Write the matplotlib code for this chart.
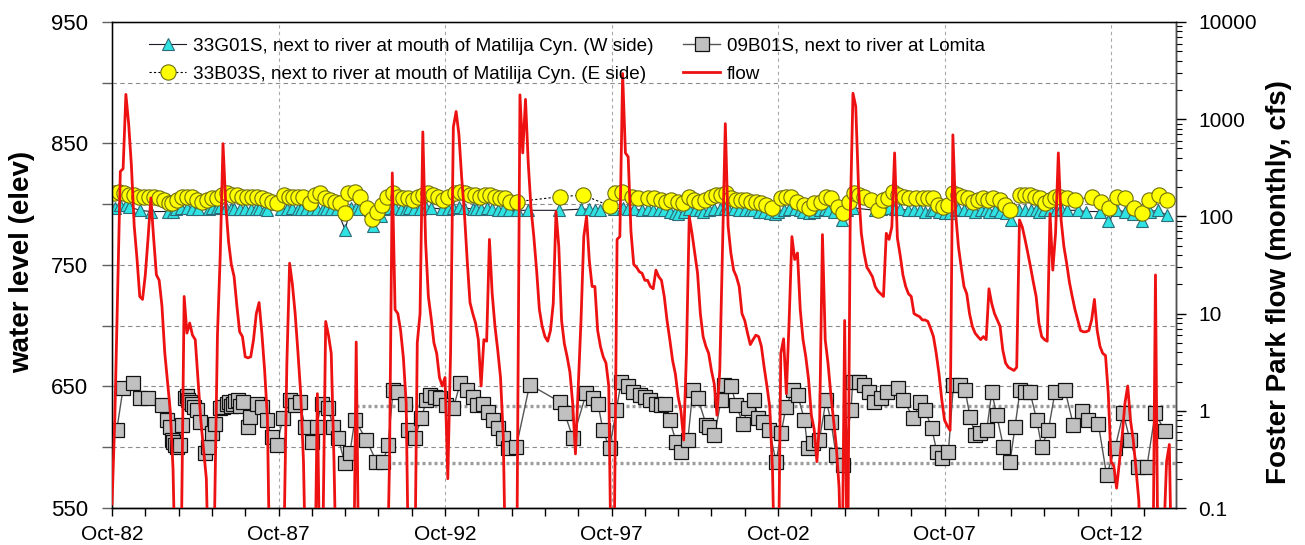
import numpy as np
import matplotlib
matplotlib.use("Agg")
import matplotlib.pyplot as plt
from matplotlib.ticker import FixedLocator, FuncFormatter, LogLocator, NullFormatter

plt.rcParams['font.family'] = ['Liberation Sans', 'DejaVu Sans']

# ---------------- data ----------------
# x positions are months counted from Oct-1982
START_YEAR = 1982.75

# Foster Park monthly flow (cfs), one value per month starting Oct-1982
flow_cfs = [
    0.11, 0.8, 15, 290, 310, 1800, 900, 330, 80, 37, 15, 14,          # WY1983
    25, 60, 155, 60, 25, 22, 12, 4, 2.0, 1.0, 0.25, 0.01,             # WY1984
    0.01, 0.05, 15, 6.3, 8, 6, 5.4, 2.1, 0.8, 0.4, 0.2, 0.01,         # WY1985
    0.01, 0.1, 6, 40, 560, 130, 55, 32, 24, 12, 6.5, 5.8,             # WY1986
    3.6, 3.5, 3.6, 5.4, 10, 13, 6.3, 2.6, 0.85, 0.01, 0.01, 0.01,     # WY1987
    0.01, 0.01, 0.05, 3, 33, 20, 10, 4, 1.5, 0.3, 0.01, 0.01,         # WY1988
    0.01, 0.01, 1.5, 0.01, 0.05, 8.3, 6, 3.9, 0.3, 0.01, 0.01, 0.01,  # WY1989
    0.01, 0.01, 0.01, 0.01, 5.1, 0.01, 0.01, 0.01, 0.01, 0.01, 0.01, 0.01,  # WY1990
    0.01, 0.01, 0.01, 0.01, 0.3, 280, 11, 10, 6.7, 3.5, 1.2, 0.01,    # WY1991
    0.01, 0.01, 5, 10, 740, 55, 15, 9, 5, 3.9, 2.2, 1.8,              # WY1992
    2.2, 0.2, 3.9, 830, 1200, 700, 250, 107, 35, 13, 10, 8,           # WY1993
    5.4, 1.8, 5.4, 5.2, 58, 16, 7.4, 4.2, 2.2, 0.54, 0.01, 0.01,      # WY1994
    0.01, 0.01, 0.1, 1780, 450, 1600, 350, 120, 62, 28, 11, 7.4,      # WY1995
    5.8, 5.2, 6.7, 12.7, 112, 49, 8.5, 4.9, 3.6, 2.5, 1.2, 0.36,      # WY1996
    1.8, 8.5, 62, 100, 35, 19, 19, 6.7, 4.6, 3.6, 3.1, 1.8,           # WY1997
    0.01, 0.05, 58, 62, 2950, 450, 410, 70, 32, 30, 27, 26,           # WY1998
    22, 22, 19, 18, 28, 24, 22, 15, 8.5, 5.4, 3.3, 2.4,               # WY1999
    1.4, 1.0, 0.5, 3.9, 100, 67, 42, 26, 10, 5.8, 4.6, 3.9,           # WY2000
    2.6, 1.9, 0.9, 2.6, 50, 900, 80, 42, 28, 24, 19, 10,              # WY2001
    8.5, 6.3, 4.8, 5.4, 6.0, 5.8, 4.6, 2.8, 1.8, 1.1, 0.25, 0.01,     # WY2002
    0.01, 3.9, 5.5, 1.5, 8.5, 62, 36, 42, 11, 5.4, 3.6, 2.1,          # WY2003
    0.9, 0.65, 0.3, 0.8, 65, 5.4, 3.1, 1.5, 0.8, 0.43, 0.16, 0.01,    # WY2004
    8.5, 0.01, 90, 1850, 1350, 200, 67, 42, 30, 27, 24, 19,           # WY2005
    17, 16, 15, 67, 58, 78, 450, 60, 40, 25, 19, 16,                  # WY2006
    15, 10, 9.6, 9.3, 8.6, 8.6, 8.3, 7.0, 5.8, 3.9, 2.4, 1.3,         # WY2007
    0.8, 0.7, 0.63, 690, 107, 49, 30, 19, 16, 10, 7.4, 6.3,           # WY2008
    5.8, 5.4, 5.8, 5.4, 18, 12.7, 10, 8.6, 7.4, 4.2, 3.1, 2.8,        # WY2009
    2.7, 2.6, 2.8, 92, 78, 58, 42, 30, 21, 15, 8, 5.8,                # WY2010
    5.4, 5.2, 107, 28, 67, 450, 92, 49, 33, 21, 15, 11,               # WY2011
    8.6, 6.7, 6.5, 6.5, 6.7, 8.6, 14, 6.7, 4.6, 3.9, 3.7, 1.5,        # WY2012
    0.3, 0.27, 0.16, 0.3, 0.55, 1.2, 1.8, 0.8, 0.5, 0.25, 0.12, 0.01, # WY2013
    0.01, 0.01, 0.01, 0.01, 25, 0.01, 0.01, 0.05, 0.3, 0.45, 0.01,    # WY2014
]

# 33G01S (W side) water level
g01_month = [1, 3, 5, 6, 10, 14, 20, 22, 23, 25, 27, 29, 31, 35, 36, 38, 39, 41, 43, 44,
             46, 48, 50, 52, 53, 55, 56,
             61, 63, 65, 67, 68, 70, 72, 74, 76, 77, 79, 81, 84, 86, 88, 89, 94,
             97, 98, 100, 102, 104, 106, 107, 109, 111, 113, 115, 119, 121, 123, 125, 127,
             130, 131, 133, 135, 137, 139, 141, 143, 146, 150, 161, 169, 172, 174, 176, 181,
             184, 186, 188, 191,
             193, 195, 197, 199, 201, 203, 204, 206, 208, 210, 212, 213, 215, 217, 219, 221,
             222, 224, 226, 228, 230, 231, 233, 235, 237, 239, 240, 242, 244, 246, 248, 249,
             251, 253, 255, 257, 258, 260, 263, 265, 267, 275, 277, 280, 282, 284, 287,
             289, 291, 293, 295, 296, 298, 300, 302, 304, 305, 307, 309, 311, 313, 315, 316,
             318, 320, 322, 324, 327, 329, 331, 333, 334, 336, 338, 340, 342, 344, 348, 351,
             356, 359, 362, 365, 368, 371, 374, 377, 380]
g01_elev = [797, 799, 799, 798, 795, 794, 794, 794, 796, 797, 797, 796, 796, 796, 797, 797, 798, 797, 796, 796,
            796, 796, 796, 796, 796, 796, 795,
            796, 796, 797, 796, 796, 796, 796, 796, 796, 796, 796, 796, 779, 797, 797, 796, 782,
            790, 796, 797, 797, 796, 796, 797, 796, 796, 797, 797, 796, 796, 797, 798, 797,
            796, 796, 796, 797, 796, 795, 795, 795, 795, 795, 795, 796, 796, 795, 795, 796,
            797, 796, 796, 795,
            796, 795, 795, 795, 794, 793, 792, 794, 796, 795, 795, 794, 795, 796, 796, 797,
            796, 796, 795, 795, 795, 795, 794, 794, 793, 792, 794, 795, 796, 796, 795, 794,
            793, 794, 795, 796, 795, 794, 787, 795, 797, 795, 796, 797, 796, 796, 795,
            795, 795, 794, 795, 795, 794, 793, 793, 795, 796, 795, 795, 794, 795, 795, 794,
            795, 794, 793, 787, 795, 795, 795, 795, 794, 795, 795, 795, 796, 795, 795, 794,
            794, 786, 795, 794, 792, 786, 794, 795, 791]

# 33B03S (E side) water level
b03_month = [0.6, 2.4, 4.2, 6.0, 7.8, 9.6, 11.4, 13.2, 15.0, 16.8,
             18.6, 20.4, 21.6, 23.4, 25.2, 27.0, 28.8, 30.6, 32.4, 34.2,
             36.0, 37.8, 39.6, 41.4, 43.2, 45.0, 46.8, 48.6, 50.4, 52.2,
             54.0, 55.8, 57.6, 59.4, 61.8, 63.6, 65.4, 67.2, 69.0, 71.4,
             73.2, 75.0, 76.8, 78.6, 80.4, 82.2, 84.0, 85.2, 87.6, 89.4,
             91.8, 93.6, 95.4, 97.2, 99.0, 101.4, 103.2, 105.0, 106.8, 108.6,
             110.4, 112.2, 114.0, 115.8, 117.6, 119.4, 121.2, 123.6, 125.4, 127.2,
             129.0, 130.8, 132.6, 134.4, 136.2, 138.0, 139.8, 141.6, 143.4, 145.8,
             161.4, 169.8, 179.4, 181.2, 183.6, 187.2, 189.6, 193.0, 195.4, 197.8,
             199.6, 201.4, 203.8, 205.6, 208.0, 209.8, 211.6, 213.8, 215.8, 217.6,
             219.4, 221.2, 223.0, 224.8, 226.6, 228.4, 230.2, 232.0, 233.8, 235.6,
             238.0, 241.0, 242.8, 244.6, 247.0, 249.4, 251.3, 253.0, 255.5, 257.3,
             259.0, 261.5, 263.3, 265.7, 267.5, 269.3, 271.1, 273.5, 275.9, 277.7,
             279.5, 281.3, 283.1, 285.5, 287.3, 289.7, 292.2, 294.0, 295.8, 297.6,
             299.4, 301.2, 303.0, 304.8, 306.6, 308.5, 310.3, 312.1, 313.9, 315.7,
             317.5, 319.9, 321.7, 323.5, 327.2, 329.0, 330.8, 332.6, 334.4, 336.3,
             338.1, 339.9, 341.7, 344.1, 347.1, 353.2, 356.2, 359.2, 362.2, 365.2,
             368.2, 371.2, 373.6, 377.3, 380.3]
b03_elev = [809, 810.4, 809, 807.6, 807.6, 806.2, 806.2, 806.2, 806.2, 804.9,
            803.5, 800.8, 800.8, 803.5, 806.2, 806.2, 806.2, 803.5, 802.1, 803.5,
            804.9, 804.9, 807.6, 809, 807.6, 807.6, 806.2, 806.2, 806.2, 806.2,
            804.9, 803.5, 802.1, 800.8, 807.6, 806.2, 806.2, 806.2, 806.2, 800.8,
            807.6, 809, 804.9, 803.5, 802.1, 800.8, 792.5, 809, 810.4, 806.2,
            796.6, 788, 794, 799.4, 806.2, 809, 806.2, 804.9, 804.9, 803.5,
            806.2, 807.6, 809, 807.6, 806.2, 803.5, 806.2, 809, 810.4, 809,
            807.6, 807.6, 806.2, 807.6, 807.6, 806.2, 804.9, 804.9, 802.1, 802.1,
            806.2, 807.6, 798.6, 809, 810.4, 806.2, 804.9, 804.9, 804.9, 803.5,
            802.1, 803.5, 802.1, 800.8, 806.2, 803.5, 802.1, 803.5, 806.2, 807.6,
            807.6, 809, 804.9, 803.5, 803.5, 803.5, 802.1, 802.1, 800.8, 799.4,
            796.6, 804.9, 806.2, 806.2, 802.1, 799.4, 796.6, 800.8, 802.1, 806.2,
            804.9, 798, 792.5, 802.1, 809, 807.6, 806.2, 803.5, 795.3, 803.5,
            804.9, 810.4, 807.6, 806.2, 804.9, 804.9, 804.9, 804.9, 804.9, 799.4,
            798, 799.4, 809, 807.6, 806.2, 804.9, 802.1, 803.5, 804.9, 803.5,
            804.9, 803.5, 799.4, 795.3, 807.6, 807.6, 807.6, 806.2, 804.9, 800.8,
            803.5, 806.2, 806.2, 804.9, 803.5, 806.2, 802.1, 796.6, 806.2, 804.9,
            796.6, 792.5, 803.5, 807.6, 803.5]

# 09B01S (Lomita) water level
b01_month = [1.7, 4.0, 7.7, 10.1, 13.1, 17.9, 19.7, 20.9, 21.5, 21.9,
             22.7, 23.5, 24.5, 25.1, 26.3, 26.9, 27.5, 28.1, 28.7, 29.5,
             30.5, 31.7, 33.5, 34.7, 35.9, 37.1, 38.9, 40.1, 41.3, 42.1,
             42.9, 43.7, 44.5, 45.5, 46.3, 47.3, 49.1, 49.7, 52.1, 53.9,
             55.7, 57.5, 59.3, 61.7, 64.1, 65.9, 67.7, 69.5, 71.9, 73.7,
             75.5, 77.9, 79.7, 81.5, 83.9, 85.7, 87.5, 91.7, 95.3, 97.7,
             99.5, 101.3, 103.1, 105.5, 106.7, 109.1, 111.5, 113.3, 114.5, 116.3,
             118.1, 120.5, 123, 125.4, 127.8, 130.2, 131.4, 133.8, 135.6, 137.3,
             139.1, 140.9, 142.7, 145.7, 150.5, 161.3, 163.1, 166.1, 170.9, 173.3,
             175.1, 176.9, 179.3, 181.7, 183.5, 185.9, 187.7, 190.1, 191.9, 193.7,
             196.1, 197.9, 199.1, 200.9, 203.3, 205.1, 207.5, 209.3, 211.1, 214.1,
             215.3, 217.1, 219.5, 220.7, 223.1, 224.9, 227.3, 229.1, 231.5, 232.7,
             234.5, 236.9, 239.3, 241.1, 242.9, 245.3, 247.1, 249.5, 250.7, 252.5,
             254.9, 257.3, 259.1, 260.9, 263.3, 266.3, 266.9, 269.3, 271.1, 272.9,
             274.7, 277.1, 279.2, 283.4, 285.2, 288.8, 291.2, 293, 295.4, 297.2,
             299, 301.4, 303.2, 305.6, 307.4, 309.2, 311, 312.8, 315.2, 317,
             318.8, 321.2, 323.6, 325.4, 327.2, 329, 330.8, 333.2, 335, 337.4,
             339.8, 343.4, 346.4, 349.4, 351.8, 355.4, 358.4, 361.4, 364.4, 366.8,
             369.8, 372.9, 375.9, 379.5]
b01_elev = [614, 648.5, 652.5, 640.5, 640.5, 635, 622.5, 617, 606, 604,
            602, 600, 602, 618, 640.5, 642, 639, 637, 636, 633,
            630.5, 621, 595, 600.5, 611.5, 619.5, 632, 633, 636, 637,
            634, 636, 638, 639, 634, 637.5, 617, 625, 636, 633.5,
            622.5, 608.5, 602, 624, 639, 635, 637.5, 617, 604.5, 617,
            636, 632, 617, 607.5, 587, 595, 622.5, 606, 588, 588,
            602, 647, 645.5, 636, 614, 607.5, 624, 639, 643, 641.5,
            640.5, 635, 632, 652.5, 647, 641.5, 635, 636, 629, 622.5,
            615.5, 607.5, 599, 600.5, 651.5, 637.5, 628, 607.5, 644.5, 640.5,
            636, 614, 599, 630.5, 654, 650, 645.5, 643, 641.5, 639,
            636, 635, 636, 622.5, 604.5, 596.5, 606, 647, 640.5, 618.5,
            617, 610, 639, 651.5, 650, 635, 619.5, 632, 639, 624,
            621, 614, 588, 611.5, 633.5, 647, 643, 622.5, 599, 603.5,
            606, 639, 621, 593.5, 585.5, 630.5, 654, 654, 651.5, 645.5,
            637.5, 640.5, 645.5, 648.5, 639, 624, 637.5, 630.5, 615.5, 596.5,
            591, 596.5, 651.5, 651.5, 647, 625, 610, 611.5, 614, 645.5,
            626.5, 600.5, 588, 617, 647, 645.5, 645.5, 622.5, 600.5, 614,
            645.5, 647, 618.5, 629.5, 622.5, 619.5, 577, 599, 628, 606,
            584, 584, 628, 613]

# dotted reference levels (elev) and the month they start
ref_levels = [634, 587]
ref_start_month = [88, 96.5]

labels_series = ["33G01S, next to river at mouth of Matilija Cyn. (W side)",
                 "33B03S, next to river at mouth of Matilija Cyn. (E side)",
                 "09B01S, next to river at Lomita",
                 "flow"]


def to_year(m):
    return START_YEAR + np.asarray(m, dtype=float) / 12.0


# ---------------- figure ----------------
W, H = 1305, 545
fig = plt.figure(figsize=(W / 100, H / 100), dpi=100)
ax = fig.add_axes([112 / W, 37 / H, 1064 / W, 486 / H])
ax2 = ax.twinx()

x_end = to_year(383.4)
ax.set_xlim(START_YEAR, x_end)
ax.set_ylim(550, 950)
ax2.set_yscale('log')
ax2.set_ylim(0.1, 10000)

# grid / ticks on left axis
ax.yaxis.set_major_locator(FixedLocator([550, 650, 750, 850, 950]))
ax.yaxis.set_minor_locator(FixedLocator([600, 700, 800, 900]))
ax.yaxis.set_minor_formatter(NullFormatter())
ax.grid(True, axis='y', which='both', color='#8c8c8c', linestyle=(0, (4, 3)), linewidth=0.8)

year_ticks = START_YEAR + np.arange(0, 32)
ax.xaxis.set_major_locator(FixedLocator(year_ticks[::5]))
ax.xaxis.set_minor_locator(FixedLocator(year_ticks))
ax.xaxis.set_major_formatter(FuncFormatter(lambda v, p: "Oct-%02d" % (int(round(v - 0.75)) % 100)))
ax.xaxis.set_minor_formatter(NullFormatter())
ax.grid(True, axis='x', which='major', color='#a8a8a8', linestyle=(0, (3, 3)), linewidth=0.8)
ax.set_axisbelow(True)

ax.tick_params(axis='y', which='both', direction='out', length=7, width=1, pad=10,
               labelsize=16, color='#606060')
ax.tick_params(axis='x', which='both', direction='out', length=6, width=1, pad=6.5,
               labelsize=15, color='black')

ax2.yaxis.set_major_locator(LogLocator(base=10, numticks=10))
ax2.yaxis.set_minor_locator(LogLocator(base=10, subs=np.arange(2, 10), numticks=20))
ax2.yaxis.set_major_formatter(FuncFormatter(lambda v, p: "%g" % v))
ax2.yaxis.set_minor_formatter(NullFormatter())
ax2.tick_params(axis='y', which='major', direction='out', length=7, width=1, pad=9, labelsize=15)
ax2.tick_params(axis='y', which='minor', direction='out', length=4, width=0.8)

for s in ('left', 'top'):
    ax.spines[s].set_color('#808080')
ax.spines['bottom'].set_color('black')
ax2.spines['right'].set_color('#505050')
for a in (ax, ax2):
    for s in a.spines.values():
        s.set_linewidth(1.0)

# reference dotted levels
for lev, sm in zip(ref_levels, ref_start_month):
    ax.hlines(lev, to_year(sm), x_end, colors='#9c9c9c', linestyles=(0, (0.9, 0.9)),
              linewidth=2.4, zorder=1.5)

# wells
h_g01, = ax.plot(to_year(g01_month), g01_elev, color='#1a1a2a', lw=0.8, marker='^', ms=9,
                 mfc='#2fe3e3', mec='#2d6b78', mew=0.8, zorder=2)
h_b01, = ax.plot(to_year(b01_month), b01_elev, color='#555555', lw=1.0, marker='s', ms=10,
                 mfc='#c0c0c0', mec='#111111', mew=0.9, zorder=2)
h_b03, = ax.plot(to_year(b03_month), b03_elev, color='black', lw=0.8, linestyle=(0, (2, 2)),
                 marker='o', ms=11, mfc='#ffff00', mec='#6e6e10', mew=0.8, zorder=2.5)

# flow
x_flow = to_year(np.arange(len(flow_cfs)))
h_flow, = ax2.plot(x_flow, flow_cfs, color='#ee1111', lw=2.0, zorder=3)

# labels
ax.set_ylabel("water level (elev)", fontsize=20, fontweight='bold')
ax.yaxis.set_label_coords(-0.0724, 0.507)
ax2.set_ylabel("Foster Park flow (monthly, cfs)", fontsize=20, fontweight='bold', rotation=90)
ax2.yaxis.set_label_coords(1.0846, 0.464)

leg = ax2.legend([h_g01, h_b03, h_b01, h_flow],
                 [labels_series[0], labels_series[1], labels_series[2], labels_series[3]],
                 ncol=2, loc='upper left', bbox_to_anchor=(0.035, 0.968), frameon=False,
                 fontsize=13.6, handlelength=1.95, handletextpad=0.35, columnspacing=1.6,
                 labelspacing=0.57, borderaxespad=0, borderpad=0, numpoints=1)

fig.savefig("out.png", dpi=100)
